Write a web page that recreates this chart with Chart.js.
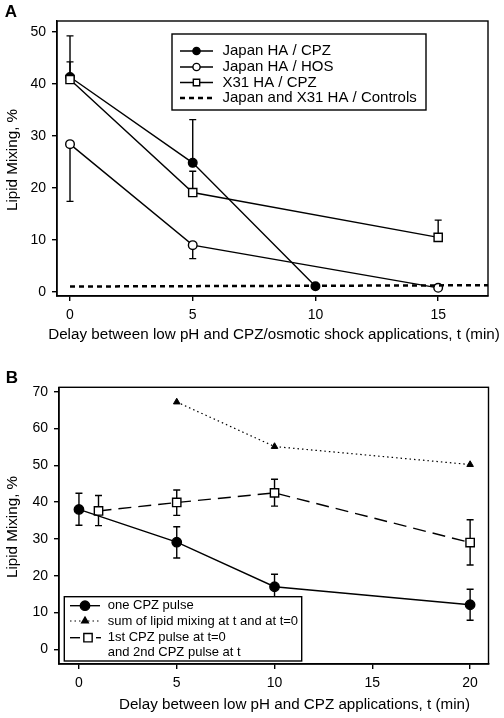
<!DOCTYPE html>
<html>
<head>
<meta charset="utf-8">
<script src="https://cdn.jsdelivr.net/npm/chart.js@4.4.0/dist/chart.umd.min.js"></script>
<style>
  html, body { margin: 0; padding: 0; background: #fff; }
  #wrapA { position: absolute; left: 0; top: 0; width: 504px; height: 350px; }
  #wrapB { position: absolute; left: 0; top: 350px; width: 504px; height: 368px; }
</style>
</head>
<body>
<div id="wrapA"><canvas id="chartA" width="504" height="350"></canvas></div>
<div id="wrapB"><canvas id="chartB" width="504" height="368"></canvas></div>
<script>
// ---- panel A data ----
const jpnCpzX = [0, 5, 10];
const jpnCpzY = [41.3, 24.8, 1.1];
const jpnCpzHi = [49.2, 33.1, null];

const jpnHosX = [0, 5, 15];
const jpnHosY = [28.4, 9.0, 0.8];
const jpnHosLo = [17.4, 6.4, null];

const x31CpzX = [0, 5, 15];
const x31CpzY = [40.8, 19.1, 10.5];
const x31CpzHi = [44.2, 23.2, 13.8];

const controlX = [0, 17.03];
const controlY = [1.05, 1.3];

const ticksA_x = [0, 5, 10, 15];
const ticksA_y = [0, 10, 20, 30, 40, 50];

// ---- panel B data ----
const onePulseX = [0, 5, 10, 20];
const onePulseY = [38.0, 29.1, 17.0, 12.1];
const onePulseLo = [33.7, 24.8, 13.7, 7.9];
const onePulseHi = [42.4, 33.3, 20.4, 16.3];

const sumX = [5, 10, 20];
const sumY = [67.2, 55.1, 50.2];

const twoPulseX = [1, 5, 10, 20];
const twoPulseY = [37.6, 39.9, 42.5, 29.0];
const twoPulseLo = [33.6, 36.4, 38.9, 22.9];
const twoPulseHi = [41.8, 43.3, 46.2, 35.2];

const ticksB_x = [0, 5, 10, 15, 20];
const ticksB_y = [0, 10, 20, 30, 40, 50, 60, 70];

const FONT = '"Liberation Sans", Arial, sans-serif';
const LW = 1.4;

function pts(xs, ys) {
    return xs.map((x, i) => ({ x: x, y: ys[i] }));
}

function drawMarker(ctx, style, x, y, r, fill) {
    ctx.save();
    ctx.setLineDash([]);
    ctx.lineWidth = LW;
    ctx.strokeStyle = '#000';
    ctx.fillStyle = fill;
    ctx.beginPath();
    if (style === 'circle') {
        ctx.arc(x, y, r, 0, Math.PI * 2);
    } else if (style === 'rect') {
        const s = r * Math.SQRT1_2;
        ctx.rect(x - s, y - s, 2 * s, 2 * s);
    } else if (style === 'triangle') {
        let a = 0;
        ctx.moveTo(x + Math.sin(a) * r, y - Math.cos(a) * r);
        a += Math.PI * 2 / 3;
        ctx.lineTo(x + Math.sin(a) * r, y - Math.cos(a) * r);
        a += Math.PI * 2 / 3;
        ctx.lineTo(x + Math.sin(a) * r, y - Math.cos(a) * r);
        ctx.closePath();
    }
    ctx.fill();
    ctx.stroke();
    ctx.restore();
}

function seg(ctx, x1, x2, y, dash, width) {
    ctx.save();
    ctx.strokeStyle = '#000';
    ctx.lineWidth = width || LW;
    ctx.setLineDash(dash || []);
    ctx.beginPath();
    ctx.moveTo(x1, y);
    ctx.lineTo(x2, y);
    ctx.stroke();
    ctx.restore();
}

// error bars, frame, legend and titles
function makeDeco(cfg) {
    return {
        id: 'deco',
        beforeDatasetsDraw(chart) {
            const ctx = chart.ctx;
            const xs = chart.scales.x, ys = chart.scales.y;
            ctx.save();
            ctx.strokeStyle = '#000';
            ctx.lineWidth = LW;
            cfg.errors.forEach(e => {
                const data = chart.data.datasets[e.ds].data;
                data.forEach((p, j) => {
                    const px = xs.getPixelForValue(p.x);
                    const py = ys.getPixelForValue(p.y);
                    [e.lo, e.hi].forEach(arr => {
                        if (!arr || arr[j] == null) return;
                        const ey = ys.getPixelForValue(arr[j]);
                        ctx.beginPath();
                        ctx.moveTo(px, py);
                        ctx.lineTo(px, ey);
                        ctx.moveTo(px - 3.5, ey);
                        ctx.lineTo(px + 3.5, ey);
                        ctx.stroke();
                    });
                });
            });
            ctx.restore();
        },
        afterDraw(chart) {
            const ctx = chart.ctx;
            const a = chart.chartArea;
            ctx.save();
            // frame
            ctx.strokeStyle = '#000';
            ctx.lineWidth = LW;
            ctx.strokeRect(a.left, a.top, a.right - a.left, a.bottom - a.top);

            // legend
            const L = cfg.legend;
            ctx.fillStyle = '#fff';
            ctx.fillRect(L.box[0], L.box[1], L.box[2] - L.box[0], L.box[3] - L.box[1]);
            ctx.strokeRect(L.box[0], L.box[1], L.box[2] - L.box[0], L.box[3] - L.box[1]);
            ctx.font = L.font;
            ctx.textBaseline = 'middle';
            ctx.textAlign = 'left';
            L.rows.forEach(r => {
                if (r.segs) r.segs.forEach(s => seg(ctx, s[0], s[1], r.y, r.dash, r.width));
                if (r.style) drawMarker(ctx, r.style, r.mx, r.y, r.r, r.fill);
                ctx.fillStyle = '#000';
                ctx.fillText(r.text, L.textX, r.y);
            });

            // axis titles
            ctx.fillStyle = '#000';
            ctx.font = '15.2px ' + FONT;
            ctx.textAlign = 'center';
            ctx.textBaseline = 'middle';
            ctx.fillText(cfg.xTitle.text, cfg.xTitle.x, cfg.xTitle.y);
            ctx.save();
            ctx.translate(cfg.yTitle.x, cfg.yTitle.y);
            ctx.rotate(-Math.PI / 2);
            ctx.fillText(cfg.yTitle.text, 0, 0);
            ctx.restore();

            // panel letter
            ctx.font = 'bold 17px ' + FONT;
            ctx.fillText(cfg.letter.text, cfg.letter.x, cfg.letter.y);
            ctx.restore();
        }
    };
}

function axis(min, max, ticks, size, pad, isY) {
    return {
        type: 'linear',
        min: min,
        max: max,
        afterBuildTicks(scale) {
            scale.ticks = ticks.map(v => ({ value: v }));
        },
        afterFit(scale) {
            if (isY) scale.width = size; else scale.height = size;
        },
        grid: { display: true, drawOnChartArea: false, drawTicks: true, tickLength: 5, color: '#000', lineWidth: LW },
        border: { display: true, color: '#000', width: LW },
        ticks: { color: '#000', font: { family: FONT, size: 14 }, padding: pad, maxRotation: 0 }
    };
}

function baseOptions(pad, xAxis, yAxis) {
    return {
        responsive: false,
        animation: false,
        layout: { padding: pad },
        plugins: { legend: { display: false }, tooltip: { enabled: false } },
        scales: { x: xAxis, y: yAxis }
    };
}

document.addEventListener("DOMContentLoaded", function () {
    const chartA = new Chart(document.getElementById("chartA"), {
        type: "line",
        data: {
            datasets: [
                {
                    label: "Japan and X31 HA / Controls",
                    data: pts(controlX, controlY),
                    borderColor: "#000", borderWidth: 2.5, borderDash: [5, 4],
                    pointRadius: 0
                },
                {
                    label: "X31 HA / CPZ",
                    data: pts(x31CpzX, x31CpzY),
                    borderColor: "#000", borderWidth: LW,
                    pointStyle: "rect", pointRadius: 5.8,
                    pointBackgroundColor: "#fff", pointBorderColor: "#000", pointBorderWidth: LW
                },
                {
                    label: "Japan HA / HOS",
                    data: pts(jpnHosX, jpnHosY),
                    borderColor: "#000", borderWidth: LW,
                    pointStyle: "circle", pointRadius: 4.3,
                    pointBackgroundColor: "#fff", pointBorderColor: "#000", pointBorderWidth: LW
                },
                {
                    label: "Japan HA / CPZ",
                    data: pts(jpnCpzX, jpnCpzY),
                    borderColor: "#000", borderWidth: LW,
                    pointStyle: "circle", pointRadius: 4.3,
                    pointBackgroundColor: "#000", pointBorderColor: "#000", pointBorderWidth: LW
                }
            ]
        },
        options: baseOptions(
            { left: 0, right: 16, top: 21, bottom: 0 },
            axis(-0.53, 17.03, ticksA_x, 54, 6, false),
            axis(-0.77, 52.05, ticksA_y, 57, 6, true)
        ),
        plugins: [makeDeco({
            errors: [
                { ds: 3, hi: jpnCpzHi },
                { ds: 2, lo: jpnHosLo },
                { ds: 1, hi: x31CpzHi }
            ],
            legend: {
                box: [172, 34, 426, 110],
                font: '15px ' + FONT,
                textX: 222.5,
                rows: [
                    { y: 51, segs: [[180, 213]], style: 'circle', mx: 196.5, r: 3.6, fill: '#000', text: 'Japan HA / CPZ' },
                    { y: 67, segs: [[180, 213]], style: 'circle', mx: 196.5, r: 3.6, fill: '#fff', text: 'Japan HA / HOS' },
                    { y: 82.5, segs: [[180, 213]], style: 'rect', mx: 196.5, r: 4.5, fill: '#fff', text: 'X31 HA / CPZ' },
                    { y: 98, segs: [[180, 213]], dash: [5, 4], width: 2.5, text: 'Japan and X31 HA / Controls' }
                ]
            },
            xTitle: { text: 'Delay between low pH and CPZ/osmotic shock applications, t (min)', x: 274, y: 335 },
            yTitle: { text: 'Lipid Mixing, %', x: 13, y: 160 },
            letter: { text: 'A', x: 11, y: 12.5 }
        })]
    });

    const chartB = new Chart(document.getElementById("chartB"), {
        type: "line",
        data: {
            datasets: [
                {
                    label: "one CPZ pulse",
                    data: pts(onePulseX, onePulseY),
                    borderColor: "#000", borderWidth: LW,
                    pointStyle: "circle", pointRadius: 4.7,
                    pointBackgroundColor: "#000", pointBorderColor: "#000", pointBorderWidth: LW
                },
                {
                    label: "sum of lipid mixing at t and at t=0",
                    data: pts(sumX, sumY),
                    borderColor: "#000", borderWidth: 1.2, borderDash: [1.5, 3],
                    pointStyle: "triangle", pointRadius: 3.8,
                    pointBackgroundColor: "#000", pointBorderColor: "#000", pointBorderWidth: 1
                },
                {
                    label: "1st CPZ pulse at t=0 and 2nd CPZ pulse at t",
                    data: pts(twoPulseX, twoPulseY),
                    borderColor: "#000", borderWidth: LW, borderDash: [13, 7],
                    pointStyle: "rect", pointRadius: 5.9,
                    pointBackgroundColor: "#fff", pointBorderColor: "#000", pointBorderWidth: LW
                }
            ]
        },
        options: baseOptions(
            { left: 0, right: 15.5, top: 37.3, bottom: 0 },
            axis(-1.02, 20.94, ticksB_x, 54, 6, false),
            axis(-4.0, 71.2, ticksB_y, 59, 6, true)
        ),
        plugins: [makeDeco({
            errors: [
                { ds: 0, lo: onePulseLo, hi: onePulseHi },
                { ds: 2, lo: twoPulseLo, hi: twoPulseHi }
            ],
            legend: {
                box: [64.3, 246.7, 301.7, 311],
                font: '13px ' + FONT,
                textX: 107.7,
                rows: [
                    { y: 255.7, segs: [[70, 100]], style: 'circle', mx: 85, r: 4.7, fill: '#000', text: 'one CPZ pulse' },
                    { y: 271, segs: [[70, 100]], dash: [1.5, 3], width: 1.2, style: 'triangle', mx: 85, r: 3.8, fill: '#000', text: 'sum of lipid mixing at t and at t=0' },
                    { y: 287.7, segs: [[70, 80], [96, 101]], style: 'rect', mx: 88, r: 5.9, fill: '#fff', text: '1st CPZ pulse at t=0' },
                    { y: 302.3, text: 'and 2nd CPZ pulse at t' }
                ]
            },
            xTitle: { text: 'Delay between low pH and CPZ applications, t (min)', x: 294.5, y: 355 },
            yTitle: { text: 'Lipid Mixing, %', x: 13, y: 177 },
            letter: { text: 'B', x: 12, y: 28.5 }
        })]
    });
});
</script>
</body>
</html>
